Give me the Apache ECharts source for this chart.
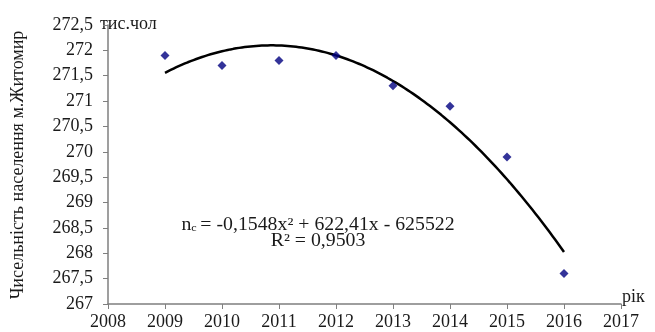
<!DOCTYPE html>
<html>
<head>
<meta charset="utf-8">
<script src="https://cdn.jsdelivr.net/npm/echarts@6/dist/echarts.min.js"></script>
<style>html,body{margin:0;padding:0;background:#fff}#c{width:655px;height:332px}</style>
</head>
<body>
<div id="c"></div>
<script>
const years = [2009, 2010, 2011, 2012, 2013, 2014, 2015, 2016];
const population = [271.9, 271.7, 271.8, 271.9, 271.3, 270.9, 269.9, 267.6];
const yAxisTitle = 'Чисельність населення м.Житомир';
const yUnit = 'тис.чол';
const xUnit = 'рік';
const equation = '= -0,1548x² + 622,41x - 625522';
const rSquared = 'R² = 0,9503';

// Polynomial (order 2) least-squares trendline fitted to the observed data
function quadFit(xs, ys) {
  const x0 = xs[0];
  const t = xs.map(x => x - x0);
  let S = [0, 0, 0, 0, 0], T = [0, 0, 0];
  t.forEach((ti, i) => {
    for (let k = 0; k < 5; k++) S[k] += Math.pow(ti, k);
    for (let k = 0; k < 3; k++) T[k] += Math.pow(ti, k) * ys[i];
  });
  const M = [[S[0], S[1], S[2], T[0]], [S[1], S[2], S[3], T[1]], [S[2], S[3], S[4], T[2]]];
  for (let i = 0; i < 3; i++) {
    for (let j = i + 1; j < 3; j++) {
      const f = M[j][i] / M[i][i];
      for (let k = i; k < 4; k++) M[j][k] -= f * M[i][k];
    }
  }
  const c = [0, 0, 0];
  for (let i = 2; i >= 0; i--) {
    let s = M[i][3];
    for (let k = i + 1; k < 3; k++) s -= M[i][k] * c[k];
    c[i] = s / M[i][i];
  }
  return x => c[0] + c[1] * (x - x0) + c[2] * (x - x0) * (x - x0);
}
const fit = quadFit(years, population);
const trendPts = [];
for (let x = years[0]; x <= years[years.length - 1] + 1e-9; x += 0.05) trendPts.push([x, fit(x)]);

const FONT = '"Liberation Serif", "Times New Roman", serif';
const TXT = '#1a1a1a';
const chart = echarts.init(document.getElementById('c'));
chart.setOption({
  animation: false,
  backgroundColor: '#fff',
  grid: { left: 108, right: 34, top: 25, bottom: 28 },
  xAxis: {
    type: 'value', min: 2008, max: 2017, interval: 1,
    name: xUnit, nameLocation: 'end', nameGap: 1,
    nameTextStyle: { fontFamily: FONT, fontSize: 18, color: TXT, align: 'left', verticalAlign: 'bottom', lineHeight: 14 },
    axisLine: { lineStyle: { color: '#7f7f7f', width: 1.5 } },
    axisTick: { show: true, length: 5, lineStyle: { color: '#7f7f7f' } },
    axisLabel: { fontFamily: FONT, fontSize: 18, color: TXT, margin: 9, formatter: v => String(v) },
    splitLine: { show: false }
  },
  yAxis: {
    type: 'value', min: 267, max: 272.5, interval: 0.5,
    name: yUnit, nameLocation: 'end', nameGap: 1,
    nameTextStyle: { fontFamily: FONT, fontSize: 18, color: TXT, align: 'left', verticalAlign: 'middle', padding: [0, 0, 0, -8] },
    axisLine: { show: true, lineStyle: { color: '#7f7f7f', width: 1.5 } },
    axisTick: { show: true, length: 5, lineStyle: { color: '#7f7f7f' } },
    axisLabel: { fontFamily: FONT, fontSize: 18, color: TXT, margin: 15,
      formatter: v => String(v).replace('.', ',') },
    splitLine: { show: false }
  },
  graphic: [
    { type: 'text', x: 18, y: 165, rotation: Math.PI / 2, scaleY: 1.1, z: 10,
      style: { text: yAxisTitle, font: '18px ' + FONT, fill: TXT, align: 'center', verticalAlign: 'middle' } },
    { type: 'text', x: 318, y: 225, scaleX: 1.1, z: 10,
      style: { text: '{n|n}{s|c} {n|' + equation + '}', align: 'center', verticalAlign: 'middle',
        rich: { n: { font: '18px ' + FONT, fill: TXT }, s: { font: '11px ' + FONT, fill: TXT, verticalAlign: 'bottom', padding: [6, 0, 0, 0] } } } },
    { type: 'text', x: 318, y: 241, scaleX: 1.1, z: 10,
      style: { text: rSquared, font: '18px ' + FONT, fill: TXT, align: 'center', verticalAlign: 'middle' } }
  ],
  series: [
    { type: 'line', data: trendPts, smooth: false, symbol: 'none',
      lineStyle: { color: '#000', width: 2.5 }, z: 2 },
    { type: 'scatter', data: years.map((y, i) => [y, population[i]]), symbol: 'diamond', symbolSize: 9,
      itemStyle: { color: '#000080' }, z: 3 }
  ]
});
</script>
</body>
</html>
